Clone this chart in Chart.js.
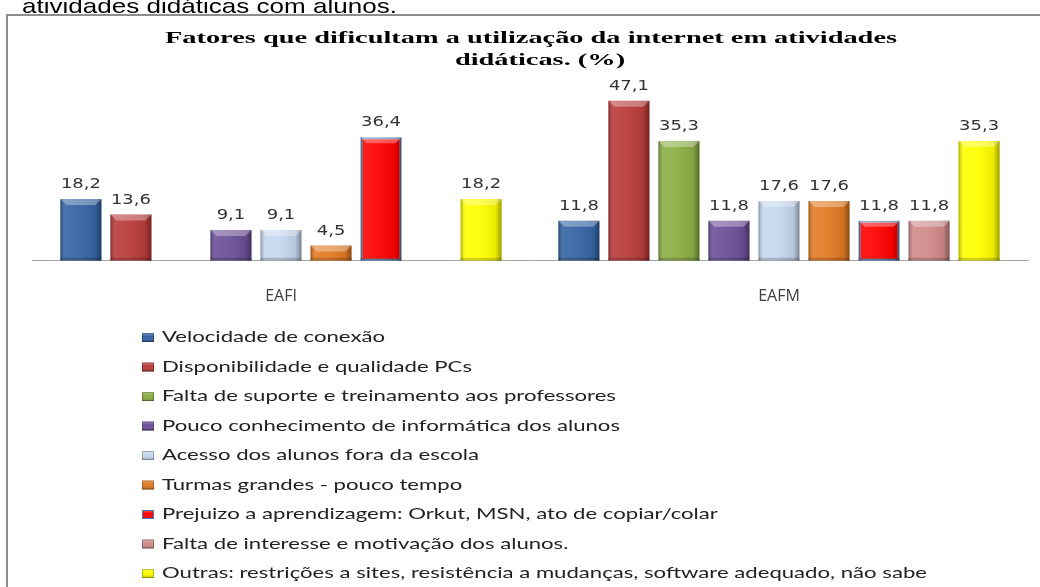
<!DOCTYPE html>
<html>
<head>
<meta charset="utf-8">
<script src="https://cdn.jsdelivr.net/npm/chart.js@4/dist/chart.umd.min.js"></script>
<style>
  html, body { margin: 0; padding: 0; background: #fff; }
  #wrap { position: relative; width: 1040px; height: 587px; }
</style>
</head>
<body>
<div id="wrap"><canvas id="fatoresChart" width="1040" height="587"></canvas></div>
<script>
// data (null = no bar in that group)
const categories = ['EAFI', 'EAFM'];
const seriesNames = [
  'Velocidade de conexão',
  'Disponibilidade e qualidade PCs',
  'Falta de suporte e treinamento aos professores',
  'Pouco conhecimento de informática dos alunos',
  'Acesso dos alunos fora da escola',
  'Turmas grandes - pouco tempo',
  'Prejuizo a aprendizagem: Orkut, MSN, ato de copiar/colar',
  'Falta de interesse e motivação dos alunos.',
  'Outras: restrições a sites, resistência a mudanças, software adequado, não sabe'
];
const velocidade = [18.2, 11.8];
const disponibilidade = [13.6, 47.1];
const faltaSuporte = [null, 35.3];
const poucoConhecimento = [9.1, 11.8];
const acessoFora = [9.1, 17.6];
const turmasGrandes = [4.5, 17.6];
const prejuizo = [36.4, 11.8];
const faltaInteresse = [null, 11.8];
const outras = [18.2, 35.3];

const seriesValues = [velocidade, disponibilidade, faltaSuporte, poucoConhecimento,
  acessoFora, turmasGrandes, prejuizo, faltaInteresse, outras];
const seriesColors = ['#3464a3', '#b83b3a', '#8cae45', '#6b4f98', '#c5d7ef',
  '#e27a22', '#ff0000', '#d08a89', '#ffff00'];

const titleLines = ['Fatores que dificultam a utilização da internet em atividades', 'didáticas. (%)'];
const topText = 'atividades didáticas com alunos.';

function fmt(v) {
  return v.toFixed(1).replace('.', ',');
}

// the original is a horizontally stretched bitmap, so text gets squeezed to fit
function stretchText(ctx, text, x, y, sx, align) {
  ctx.save();
  ctx.translate(x, y);
  ctx.scale(sx, 1);
  ctx.textAlign = align || 'left';
  ctx.fillText(text, 0, 0);
  ctx.restore();
}

const decor = {
  id: 'decor',
  beforeDraw(chart) {
    const ctx = chart.ctx;
    ctx.save();
    ctx.fillStyle = '#fff';
    ctx.fillRect(0, 0, chart.width, chart.height);
    // frame of the embedded chart
    ctx.strokeStyle = '#8e8e8e';
    ctx.lineWidth = 2;
    ctx.beginPath();
    ctx.moveTo(7, chart.height);
    ctx.lineTo(7, 15);
    ctx.lineTo(chart.width + 2, 15);
    ctx.stroke();
    ctx.restore();
  },
  afterDatasetsDraw(chart) {
    const ctx = chart.ctx;
    ctx.save();
    chart.data.datasets.forEach((ds, i) => {
      chart.getDatasetMeta(i).data.forEach((bar, j) => {
        if (ds.data[j] == null) return;
        const { x, y, base, width } = bar.getProps(['x', 'y', 'base', 'width'], true);
        const l = x - width / 2, r = x + width / 2, h = base - y;
        const g = ctx.createLinearGradient(l, 0, r, 0);
        g.addColorStop(0, 'rgba(0,0,0,0.32)');
        g.addColorStop(0.12, 'rgba(255,255,255,0.10)');
        g.addColorStop(0.45, 'rgba(255,255,255,0.06)');
        g.addColorStop(0.85, 'rgba(0,0,0,0.08)');
        g.addColorStop(1, 'rgba(0,0,0,0.38)');
        ctx.fillStyle = g;
        ctx.fillRect(l, y, width, h);
        // top bevel
        const bv = Math.min(6, h / 2);
        ctx.fillStyle = 'rgba(255,255,255,0.32)';
        ctx.beginPath();
        ctx.moveTo(l, y);
        ctx.lineTo(r, y);
        ctx.lineTo(r - bv, y + bv);
        ctx.lineTo(l + bv, y + bv);
        ctx.closePath();
        ctx.fill();
        // bottom shade
        ctx.fillStyle = 'rgba(0,0,0,0.18)';
        ctx.fillRect(l, base - 3, width, 3);
      });
    });
    ctx.restore();
  },
  afterDraw(chart) {
    const ctx = chart.ctx;
    ctx.save();
    ctx.textBaseline = 'alphabetic';

    // clipped caption line above the frame
    ctx.fillStyle = '#000';
    ctx.font = '21px "Liberation Sans"';
    stretchText(ctx, topText, 22, 13, 375 / ctx.measureText(topText).width, 'left');

    // title
    ctx.font = 'bold 17px "Liberation Serif"';
    const tsx = 732 / ctx.measureText(titleLines[0]).width;
    stretchText(ctx, titleLines[0], 531, 43, tsx, 'center');
    stretchText(ctx, titleLines[1], 540, 65, tsx, 'center');

    // value labels
    ctx.fillStyle = '#333';
    ctx.font = '14px "DejaVu Sans"';
    const lsx = 40 / ctx.measureText('18,2').width;
    chart.data.datasets.forEach((ds, i) => {
      chart.getDatasetMeta(i).data.forEach((bar, j) => {
        const v = ds.data[j];
        if (v == null) return;
        stretchText(ctx, fmt(v), bar.x, bar.y - 11, lsx, 'center');
      });
    });

    // legend, one item per row
    ctx.font = '16px Lato';
    const longest = seriesNames[seriesNames.length - 1];
    const gsx = 765 / ctx.measureText(longest).width;
    chart.data.datasets.forEach((ds, i) => {
      const by = 342 + i * 29.5;
      ctx.fillStyle = ds.backgroundColor;
      ctx.fillRect(142, by - 9, 12, 9);
      const g = ctx.createLinearGradient(0, by - 9, 0, by);
      g.addColorStop(0, 'rgba(255,255,255,0.35)');
      g.addColorStop(0.4, 'rgba(255,255,255,0)');
      g.addColorStop(1, 'rgba(0,0,0,0.25)');
      ctx.fillStyle = g;
      ctx.fillRect(142, by - 9, 12, 9);
      ctx.strokeStyle = i === 6 ? '#4f7bb5' : 'rgba(0,0,0,0.25)';
      ctx.lineWidth = 1;
      ctx.strokeRect(142.5, by - 8.5, 11, 8);
      ctx.fillStyle = '#222';
      stretchText(ctx, ds.label, 162, by, gsx, 'left');
    });
    ctx.restore();
  }
};

const datasets = seriesNames.map((name, i) => ({
  label: name,
  data: seriesValues[i],
  backgroundColor: seriesColors[i],
  borderColor: i === 6 ? '#5b80b4' : seriesColors[i],
  borderWidth: i === 6 ? 2 : 0,
  borderSkipped: false,
  categoryPercentage: 0.904,
  barPercentage: 0.82
}));

new Chart(document.getElementById('fatoresChart'), {
  type: 'bar',
  data: { labels: categories, datasets: datasets },
  options: {
    responsive: false,
    animation: false,
    layout: { padding: { top: 74, left: 32, right: 12, bottom: 263 } },
    plugins: {
      legend: { display: false },
      title: { display: false },
      tooltip: { enabled: false }
    },
    scales: {
      x: {
        grid: { display: false },
        border: { display: true, color: '#a6a6a6', width: 1 },
        ticks: { font: { family: 'Open Sans', size: 16 }, color: '#404040', padding: 18 }
      },
      y: { display: false, min: 0, max: 55 }
    }
  },
  plugins: [decor]
});
</script>
</body>
</html>
